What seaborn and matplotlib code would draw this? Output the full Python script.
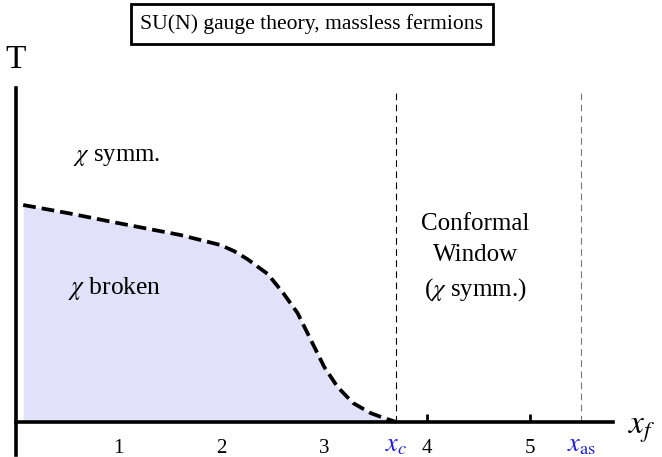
import numpy as np
import pandas as pd
import matplotlib
matplotlib.use('Agg')
import matplotlib.pyplot as plt
import seaborn as sns

# boundary of the chirally broken phase
x_f = [0.07, 0.50, 0.99, 1.60, 1.99, 2.12, 2.25, 2.45, 2.60, 2.74, 2.87, 3.00, 3.13, 3.28, 3.45, 3.58, 3.70]
T_c = [2.17, 2.09, 1.99, 1.87, 1.77, 1.71, 1.63, 1.48, 1.29, 1.09, 0.82, 0.55, 0.35, 0.19, 0.09, 0.04, 0.00]

x_c = 3.70
x_as = 5.50
ticks = [1, 2, 3, 4, 5]
tick_labels = ['1', '2', '3', '4', '5']

sns.set_theme(style='white')
plt.rcParams['font.family'] = ['Liberation Serif', 'DejaVu Serif']
plt.rcParams['mathtext.fontset'] = 'stix'
plt.rcParams['text.color'] = 'black'

fig = plt.figure(figsize=(6.62, 4.57), dpi=100)
ax = fig.add_axes([16 / 662, 2 / 457, (613 - 16) / 662, (455 - 88) / 457])
ax.set_xlim(0, 5.81)
ax.set_ylim(-0.33, 3.34)

df = pd.DataFrame({'x': x_f, 'T': T_c})
ax.fill_between(df['x'], 0, df['T'], color='#e1e1fa', lw=0, zorder=1)
sns.lineplot(data=df, x='x', y='T', ax=ax, color='black', lw=2.7, sort=False,
             zorder=3)
ax.lines[-1].set_dashes((3.4, 1.6))

ax.vlines(x_c, 0, 3.3, colors='black', lw=0.8, linestyles=(0, (6, 4)), zorder=2)
ax.vlines(x_as, 0, 3.3, colors='#777777', lw=0.8, linestyles=(0, (6, 4)), zorder=2)

for s in ['top', 'right']:
    ax.spines[s].set_visible(False)
ax.spines['left'].set_linewidth(2.6)
ax.spines['left'].set_color('black')
ax.spines['bottom'].set_position(('data', 0))
ax.spines['bottom'].set_linewidth(2.6)
ax.spines['bottom'].set_color('black')
ax.spines['bottom'].set_zorder(4)

ax.set_yticks([])
ax.set_xticks(ticks)
ax.set_xticklabels(tick_labels, fontsize=15)
ax.tick_params(axis='x', direction='in', length=6, width=2, pad=12, colors='black',
               labelcolor='black', bottom=True)
ax.set_xlabel('')
ax.set_ylabel('')

ax.text(x_c, -0.24, r'$x_c$', color='#1a1ae6', fontsize=19, ha='center', va='center')
ax.text(x_as, -0.24, r'$x_\mathrm{as}$', color='#1a1ae6', fontsize=19, ha='center', va='center')

ax.text(0.55, 2.65, r'$\chi$ symm.', fontsize=17.8, ha='left', va='center')
ax.text(0.51, 1.34, r'$\chi$ broken', fontsize=18.4, ha='left', va='center')
ax.text(4.47, 1.64, 'Conformal\nWindow\n' + r'($\chi$ symm.)', fontsize=18,
        ha='center', va='center', linespacing=1.55)

fig.text(628 / 662, 1 - 430 / 457, r'$x_f$', fontsize=24, ha='left', va='center')
fig.text(16 / 662, 1 - 60 / 457, 'T', fontsize=24, ha='center', va='center')
fig.text(312 / 662, 1 - 24 / 457, 'SU(N) gauge theory, massless fermions', fontsize=15.6,
         ha='center', va='center',
         bbox=dict(boxstyle='square,pad=0.45', fc='white', ec='black', lw=2))

fig.savefig('out.png', dpi=100)
